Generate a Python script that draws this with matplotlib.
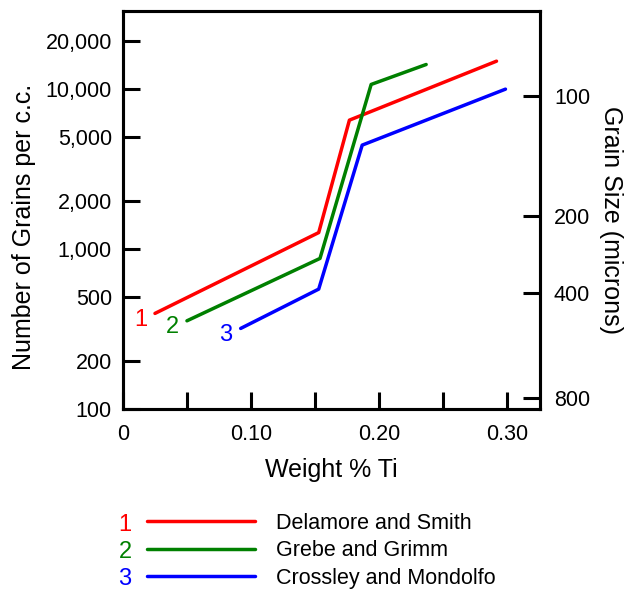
import numpy as np
import matplotlib.pyplot as plt
from matplotlib.ticker import FixedLocator, NullLocator

plt.rcParams['font.family'] = ['Liberation Sans', 'DejaVu Sans']

# curve data (weight % Ti, grains per c.c.)
ti_delamore = [0.025, 0.153, 0.177, 0.292]
n_delamore = [396, 1268, 6400, 14960]
ti_grebe = [0.050, 0.154, 0.194, 0.237]
n_grebe = [356, 874, 10700, 14260]
ti_crossley = [0.092, 0.153, 0.187, 0.299]
n_crossley = [319, 562, 4467, 10000]

names = ['Delamore and Smith', 'Grebe and Grimm', 'Crossley and Mondolfo']
colors = ['#ff0000', '#008000', '#0000ff']

left_ticks = [100, 200, 500, 1000, 2000, 5000, 10000, 20000]
left_labels = ['100', '200', '500', '1,000', '2,000', '5,000', '10,000', '20,000']
# grain size scale on the right, placed at the equivalent grains per c.c.
grain_pos = [9080, 1607, 528, 117]
grain_labels = ['100', '200', '400', '800']

fig = plt.figure(figsize=(6.35, 5.89), dpi=100)
ax = fig.add_axes([0.1937, 0.3056, 0.6567, 0.6757])

series = [(ti_delamore, n_delamore), (ti_grebe, n_grebe), (ti_crossley, n_crossley)]
lines = []
for (x, y), c, nm in zip(series, colors, names):
    ln, = ax.plot(x, y, color=c, lw=2.5, solid_capstyle='round', label=nm)
    lines.append(ln)

# curve numbers next to line starts
for i, ((x, y), c) in enumerate(zip(series, colors)):
    ax.annotate(str(i + 1), (x[0], y[0]), xytext=(-10.5, -4.5), textcoords='offset points',
                color=c, fontsize=17, ha='center', va='center')

ax.set_yscale('log')
ax.set_xlim(0, 0.326)
ax.set_ylim(100, 30800)

ax.xaxis.set_major_locator(FixedLocator([0, 0.10, 0.20, 0.30]))
ax.xaxis.set_minor_locator(FixedLocator([0.05, 0.15, 0.25]))
ax.set_xticklabels(['0', '0.10', '0.20', '0.30'])
ax.yaxis.set_major_locator(FixedLocator(left_ticks))
ax.yaxis.set_minor_locator(NullLocator())
ax.set_yticklabels(left_labels)

for which in ['major', 'minor']:
    ax.tick_params(axis='x', which=which, direction='in', length=12, width=2.2,
                   labelsize=15.5, pad=11)
    ax.tick_params(axis='y', which=which, direction='in', length=12, width=2.2,
                   labelsize=15.5, pad=8)

ax2 = ax.twinx()
ax2.set_yscale('log')
ax2.set_ylim(ax.get_ylim())
ax2.yaxis.set_major_locator(FixedLocator(grain_pos))
ax2.yaxis.set_minor_locator(NullLocator())
ax2.set_yticklabels(grain_labels)
ax2.tick_params(axis='y', direction='in', length=12, width=2.2, labelsize=15.5, pad=10)
ax2.set_ylabel('Grain Size (microns)', fontsize=18, rotation=270, labelpad=24)
ax2.yaxis.set_label_coords(1.2, 0.475)

for a in (ax, ax2):
    for s in a.spines.values():
        s.set_linewidth(2.2)

ax.set_xlabel('Weight % Ti', fontsize=18, labelpad=9)
ax.set_ylabel('Number of Grains per c.c.', fontsize=18)
ax.yaxis.set_label_coords(-0.208, 0.457)

leg = fig.legend(handles=lines, loc='upper left', bbox_to_anchor=(147 / 635, 1 - 513 / 589),
                 frameon=False, fontsize=15.5, handlelength=5.0, handletextpad=1.0,
                 labelspacing=0.3, borderpad=0, borderaxespad=0)
for i, c in enumerate(colors):
    fig.text(125 / 635, 1 - (525 + 27 * i) / 589, str(i + 1), color=c, fontsize=17,
             ha='center', va='center')

fig.savefig('out.png', dpi=100)
